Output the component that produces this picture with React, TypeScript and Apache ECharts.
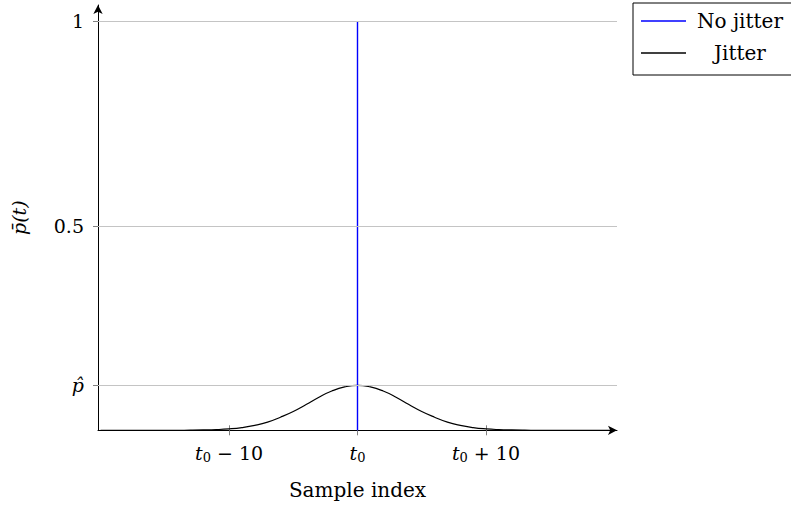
import React, { useEffect, useRef } from 'react';
import * as echarts from 'echarts';

// Sample offsets relative to t0
const sampleOffsets = [
  -20, -19, -18, -17, -16, -15, -14, -13, -12, -11, -10, -9, -8, -7, -6, -5, -4, -3, -2, -1,
  0, 1, 2, 3, 4, 5, 6, 7, 8, 9, 10, 11, 12, 13, 14, 15, 16, 17, 18, 19, 20,
];

// Averaged detection probability with timing jitter
const jitterProfile = [
  0, 0, 0, 0, 0, 0, 0.0001, 0.0003, 0.0008, 0.0017, 0.0035, 0.0067, 0.012, 0.02, 0.032, 0.046,
  0.063, 0.081, 0.096, 0.106, 0.11, 0.106, 0.096, 0.081, 0.063, 0.046, 0.032, 0.02, 0.012,
  0.0067, 0.0035, 0.0017, 0.0008, 0.0003, 0.0001, 0, 0, 0, 0, 0, 0,
];

// Without jitter all probability sits at t0
const noJitterX = [0, 0];
const noJitterY = [0, 1];

const xTickValues = [-10, 0, 10];
const xTickLabels = ['{i|t}{s|0}{n| − 10}', '{i|t}{s|0}', '{i|t}{s|0}{n| + 10}'];
const yTickValues = [0.11, 0.5, 1];
const yTickLabels = ['{i|p̂}', '{n|0.5}', '{n|1}'];

const seriesNames = ['No jitter', 'Jitter'];

const FONT = 'DejaVu Serif';
const FS = 19;

const richMath = {
  i: { fontFamily: FONT, fontStyle: 'italic', fontSize: FS, color: '#000' },
  s: { fontFamily: FONT, fontSize: 13, color: '#000', padding: [9, 0, 0, 0] },
  n: { fontFamily: FONT, fontSize: FS, color: '#000' },
};

const tickStyle = { color: '#808080', width: 1 };

export default function App() {
  const ref = useRef<HTMLDivElement>(null);

  useEffect(() => {
    if (!ref.current) return;
    const chart = echarts.init(ref.current, undefined, { renderer: 'svg' });

    const xLabel = (v: number) => xTickLabels[xTickValues.indexOf(v)] ?? '';
    const yLabel = (v: number) => yTickLabels[yTickValues.indexOf(v)] ?? '';

    chart.setOption({
      animation: false,
      backgroundColor: '#fff',
      grid: { left: 98, right: 174, top: 5, bottom: 78.7, containLabel: false },
      legend: {
        data: seriesNames,
        orient: 'vertical',
        left: 633,
        top: 3,
        padding: [8, 12, 12, 8],
        icon: 'rect',
        itemWidth: 45,
        itemHeight: 1.3,
        itemGap: 12,
        borderColor: '#000',
        borderWidth: 1,
        borderRadius: 0,
        formatter: (name: string) => `{c|${name}}`,
        textStyle: {
          fontFamily: FONT,
          fontSize: 20,
          color: '#000',
          rich: { c: { fontFamily: FONT, fontSize: 20, color: '#000', width: 98, align: 'center', lineHeight: 22 } },
        },
      },
      xAxis: [
        {
          type: 'value',
          min: -20.2,
          max: 20.2,
          name: 'Sample index',
          nameLocation: 'middle',
          nameGap: 50,
          nameTextStyle: { fontFamily: FONT, fontSize: 20, color: '#000' },
          axisLine: {
            show: true,
            onZero: false,
            symbol: ['none', 'arrow'],
            symbolSize: [7, 9],
            lineStyle: { color: '#000', width: 1 },
          },
          axisTick: { show: true, customValues: xTickValues, length: 5, lineStyle: tickStyle },
          axisLabel: { customValues: xTickValues, formatter: xLabel, margin: 12, rich: richMath },
          splitLine: { show: false },
        },
        {
          type: 'value',
          min: -20.2,
          max: 20.2,
          position: 'bottom',
          axisLine: { show: false, onZero: false },
          axisTick: { show: true, inside: true, customValues: xTickValues, length: 5, lineStyle: tickStyle },
          axisLabel: { show: false },
          splitLine: { show: false },
        },
      ],
      yAxis: [
        {
          type: 'value',
          min: 0,
          max: 1.04,
          name: 'p̄(t)',
          nameLocation: 'middle',
          nameGap: 70,
          nameRotate: 90,
          nameTextStyle: { fontFamily: FONT, fontStyle: 'italic', fontSize: FS, color: '#000' },
          axisLine: {
            show: true,
            onZero: false,
            symbol: ['none', 'arrow'],
            symbolSize: [7, 9],
            lineStyle: { color: '#000', width: 1 },
          },
          axisTick: { show: true, customValues: yTickValues, length: 5, lineStyle: tickStyle },
          axisLabel: { customValues: yTickValues, formatter: yLabel, margin: 14, rich: richMath },
          splitLine: { show: false },
        },
        {
          type: 'value',
          min: 0,
          max: 1.04,
          position: 'left',
          axisLine: { show: false, onZero: false },
          axisTick: { show: true, inside: true, customValues: yTickValues, length: 5, lineStyle: tickStyle },
          axisLabel: { show: false },
          splitLine: { show: false },
        },
      ],
      series: [
        {
          name: 'grid',
          type: 'line',
          data: [],
          silent: true,
          z: 1,
          markLine: {
            silent: true,
            symbol: ['none', 'none'],
            label: { show: false },
            lineStyle: { color: '#c4c4c4', width: 1, type: 'solid' },
            data: yTickValues.map((v) => ({ yAxis: v })),
          },
        },
        {
          name: seriesNames[1],
          type: 'line',
          smooth: true,
          symbol: 'none',
          z: 3,
          color: '#000',
          lineStyle: { color: '#000', width: 1.2 },
          data: sampleOffsets.map((x, i) => [x, jitterProfile[i]]),
        },
        {
          name: seriesNames[0],
          type: 'line',
          symbol: 'none',
          z: 4,
          color: '#0000ff',
          lineStyle: { color: '#0000ff', width: 1.4 },
          data: noJitterX.map((x, i) => [x, noJitterY[i]]),
        },
      ],
    });

    return () => chart.dispose();
  }, []);

  return <div ref={ref} style={{ width: 791, height: 509, position: 'absolute', left: 0, top: 0 }} />;
}
